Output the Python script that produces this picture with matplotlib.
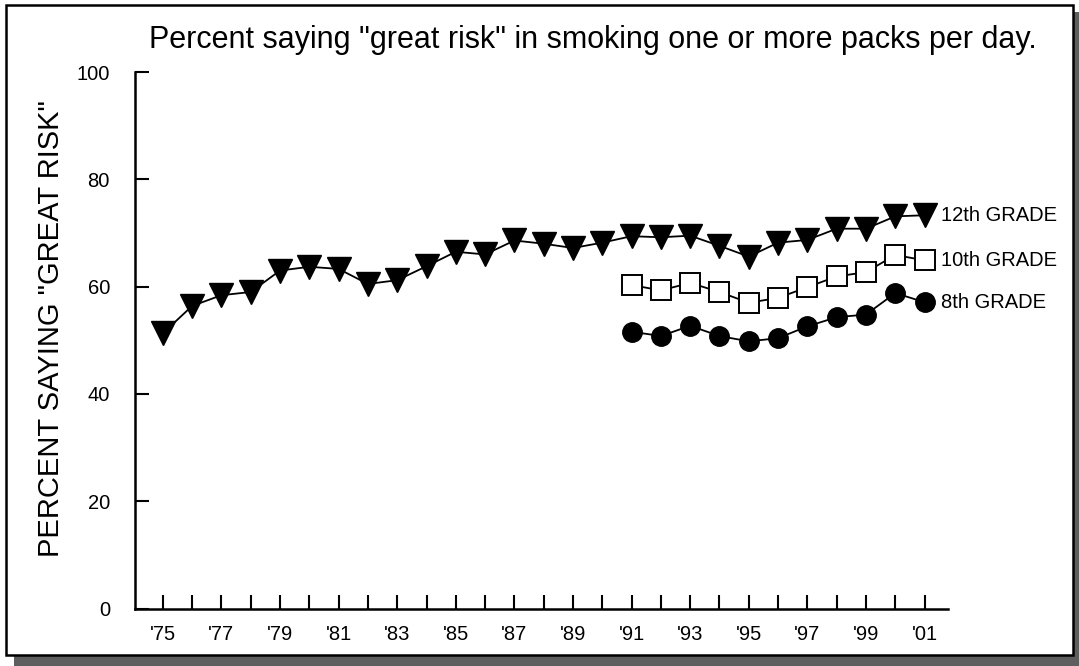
import matplotlib
matplotlib.use("Agg")
import matplotlib.pyplot as plt
from matplotlib.patches import Rectangle

plt.rcParams['font.family'] = ['Liberation Sans', 'DejaVu Sans']

years_12 = list(range(1975, 2002))
grade12 = [51.3, 56.4, 58.4, 59.0, 63.0, 63.7, 63.3, 60.5, 61.2, 63.8, 66.5,
           66.0, 68.6, 68.0, 67.2, 68.2, 69.4, 69.2, 69.5, 67.6, 65.6, 68.2,
           68.7, 70.8, 70.8, 73.1, 73.3]
years_lower = list(range(1991, 2002))
grade10 = [60.3, 59.3, 60.7, 59.0, 57.0, 57.9, 59.9, 61.9, 62.7, 65.9, 64.9]
grade8 = [51.6, 50.8, 52.7, 50.8, 49.8, 50.4, 52.6, 54.3, 54.8, 58.8, 57.1]
series_labels = ["12th GRADE", "10th GRADE", "8th GRADE"]
xtick_years = list(range(1975, 2002))
xtick_labels = ["'%02d" % (y % 100) if (y - 1975) % 2 == 0 else "" for y in xtick_years]
yticks = [0, 20, 40, 60, 80, 100]

W, H = 1079, 666
fig = plt.figure(figsize=(W / 100, H / 100), dpi=100)

# frame shadow and border
fig.patches.append(Rectangle((1073 / W, 0), 6 / W, (H - 12) / H, transform=fig.transFigure,
                             facecolor='#5e5e5e', edgecolor='none', zorder=0))
fig.patches.append(Rectangle((14 / W, 0), (W - 14) / W, 11 / H, transform=fig.transFigure,
                             facecolor='#5e5e5e', edgecolor='none', zorder=0))
fig.patches.append(Rectangle((6 / W, 11 / H), (1067 / W), (H - 16) / H, transform=fig.transFigure,
                             facecolor='white', edgecolor='black', linewidth=1.8, zorder=1))

ax = fig.add_axes([135 / W, (H - 608.6) / H, (948 - 135) / W, (608.6 - 72) / H])
ax.set_zorder(2)
ax.patch.set_visible(False)

ax.plot(years_12, grade12, color='black', lw=1.3, marker='v', markersize=17,
        markerfacecolor='black', markeredgecolor='black', clip_on=False)
ax.plot(years_lower, grade10, color='black', lw=1.3, marker='s', markersize=14,
        markerfacecolor='white', markeredgecolor='black', markeredgewidth=1.4, clip_on=False)
ax.plot(years_lower, grade8, color='black', lw=1.3, marker='o', markersize=14,
        markerfacecolor='black', markeredgecolor='black', clip_on=False)

for vals, lab in zip([grade12, grade10, grade8], series_labels):
    ax.annotate(lab, (years_lower[-1], vals[-1]), xytext=(12, 0), textcoords='offset points',
                fontsize=14.5, va='center', ha='left')

ax.set_xlim(1974.05, 2001.8)
ax.set_ylim(0, 100)
ax.set_xticks(xtick_years)
ax.set_xticklabels(xtick_labels, fontsize=14.5)
ax.set_yticks(yticks)
ax.set_yticklabels([str(v) for v in yticks], fontsize=14.5)
ax.tick_params(axis='both', direction='in', length=10, width=1.5, color='black')
ax.tick_params(axis='y', pad=18)
ax.tick_params(axis='x', pad=12)
for s in ['top', 'right']:
    ax.spines[s].set_visible(False)
for s in ['left', 'bottom']:
    ax.spines[s].set_linewidth(1.8)

fig.text(51 / W, 1 - 329 / H, 'PERCENT SAYING "GREAT RISK"', fontsize=21,
         rotation=90, va='center', ha='center')
fig.text(149 / W, 1 - 40 / H, 'Percent saying "great risk" in smoking one or more packs per day.',
         fontsize=22, va='center', ha='left')

fig.savefig('out.png', dpi=100)
